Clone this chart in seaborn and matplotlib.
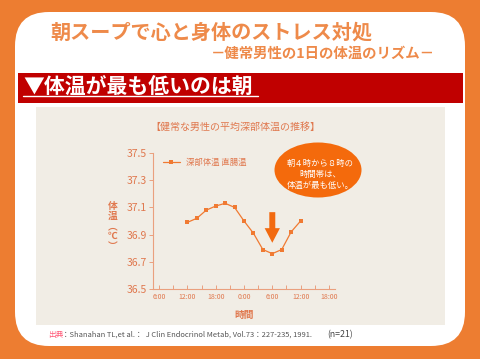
import matplotlib
matplotlib.use("Agg")
import matplotlib.pyplot as plt
import seaborn as sns
import pandas as pd
from matplotlib.patches import FancyBboxPatch, Rectangle, Ellipse

# daily rectal temperature of healthy men (12:00 -> 12:00 next day)
hours = [12, 14, 16, 18, 20, 22, 24, 26, 28, 30, 32, 34, 36]
temps = [36.99, 37.02, 37.08, 37.11, 37.13, 37.10, 37.00, 36.91, 36.79, 36.76, 36.79, 36.92, 37.00]
tick_hours = [6, 12, 18, 24, 30, 36, 42]
tick_labels = ["6:00", "12:00", "18:00", "0:00", "6:00", "12:00", "18:00"]
minor_hours = [9, 15, 21, 27, 33, 39]
y_ticks = [36.5, 36.7, 36.9, 37.1, 37.3, 37.5]

sns.set_theme(style="white")
plt.rcParams['font.family'] = ['Noto Sans CJK JP', 'DejaVu Sans']

orange_bg = "#ED7D31"
title_c = "#EE8A4A"
axis_c = "#E0784E"
line_c = "#F07A32"

W, H = 480, 359
fig = plt.figure(figsize=(4.8, 3.59), dpi=100)
fig.patch.set_facecolor(orange_bg)

# background / decoration layer in pixel coords
bg = fig.add_axes([0, 0, 1, 1])
bg.set_xlim(0, W)
bg.set_ylim(H, 0)
bg.axis("off")
bg.add_patch(FancyBboxPatch((15, 12), 450, 334, boxstyle="round,pad=0,rounding_size=34",
                            fc="white", ec="none"))
bg.text(50, 32, "朝スープで心と身体のストレス対処", color=title_c, fontsize=14.5,
        fontweight="bold", va="center", ha="left")
bg.text(435, 54, "－健常男性の1日の体温のリズム－", color=title_c, fontsize=10.4,
        fontweight="bold", va="center", ha="right")
bg.add_patch(Rectangle((18, 73), 445, 30, fc="#C00000", ec="none"))
bg.text(23, 87, "▼体温が最も低いのは朝", color="white", fontsize=15, fontweight="bold",
        va="center", ha="left")
bg.plot([23, 258], [96, 96], color="white", lw=1)
bg.add_patch(Rectangle((36, 107), 409, 218, fc="#F1EDE5", ec="none"))
bg.text(235, 127, "【健常な男性の平均深部体温の推移】", color=axis_c, fontsize=7.2,
        va="center", ha="center")
# vertical y-axis title
bg.text(113, 226, "体\n温\n︵\n℃\n︶", color=axis_c, fontsize=7, va="center", ha="center",
        fontweight="bold", linespacing=1.0, multialignment="center")
bg.text(244, 315, "時間", color=axis_c, fontsize=7, va="center", ha="center", fontweight="bold")
bg.add_patch(Ellipse((318, 170), 87, 55, fc="#F46A0C", ec="none"))
bg.text(320, 163, "朝４時から８時の", color="white", fontsize=6, va="center", ha="center")
bg.text(320, 174, "時間帯は、", color="white", fontsize=6, va="center", ha="center")
bg.text(320, 185, "体温が最も低い。", color="white", fontsize=6, va="center", ha="center")
bg.text(48, 335, "出典", color="#FF5A78", fontsize=5.5, va="center", ha="left")
bg.text(62, 335, "：Shanahan TL,et al.：  J Clin Endocrinol Metab, Vol.73：227-235, 1991.",
        color="#555555", fontsize=5.4, va="center", ha="left")
bg.text(327, 335, "(n=21)", color="#444444", fontsize=6.3, va="center", ha="left")

# chart
ax = fig.add_axes([153 / W, (H - 289) / H, (335 - 153) / W, (289 - 153) / H])
ax.set_facecolor("none")
df = pd.DataFrame({"hour": hours, "temp": temps})
sns.lineplot(data=df, x="hour", y="temp", ax=ax, color=line_c, marker="s", markersize=3,
             markeredgewidth=0, linewidth=0.9, label="深部体温 直腸温")
ax.set_xlim(4.7, 43.3)
ax.set_ylim(36.5, 37.5)
ax.set_xticks(tick_hours, tick_labels)
ax.set_xticks(minor_hours, minor=True)
ax.set_yticks(y_ticks, [f"{v:.1f}" for v in y_ticks])
ax.set_xlabel("")
ax.set_ylabel("")
for s in ["top", "right"]:
    ax.spines[s].set_visible(False)
for s in ["left", "bottom"]:
    ax.spines[s].set_color("#EAA07E")
    ax.spines[s].set_linewidth(0.8)
ax.tick_params(axis="x", which="both", direction="in", length=3, width=0.7, color="#EAA07E",
               labelsize=5, labelcolor=axis_c, pad=3, bottom=True)
ax.tick_params(axis="y", direction="out", length=3, width=0.7, color="#EAA07E",
               labelsize=7.5, labelcolor=axis_c, pad=1.5, left=True)
ax.legend(loc="center left", bbox_to_anchor=(0.055, 0.934), frameon=False, fontsize=6,
          handlelength=2.0, handletextpad=0.7, borderpad=0, borderaxespad=0,
          labelcolor=axis_c)
ax.annotate("", xy=(30, 36.84), xytext=(30, 37.065),
            arrowprops=dict(width=4.3, headwidth=11, headlength=10.5, shrink=0,
                            color="#F26A10", lw=0))

fig.savefig("out.png", dpi=100, facecolor=fig.get_facecolor())
